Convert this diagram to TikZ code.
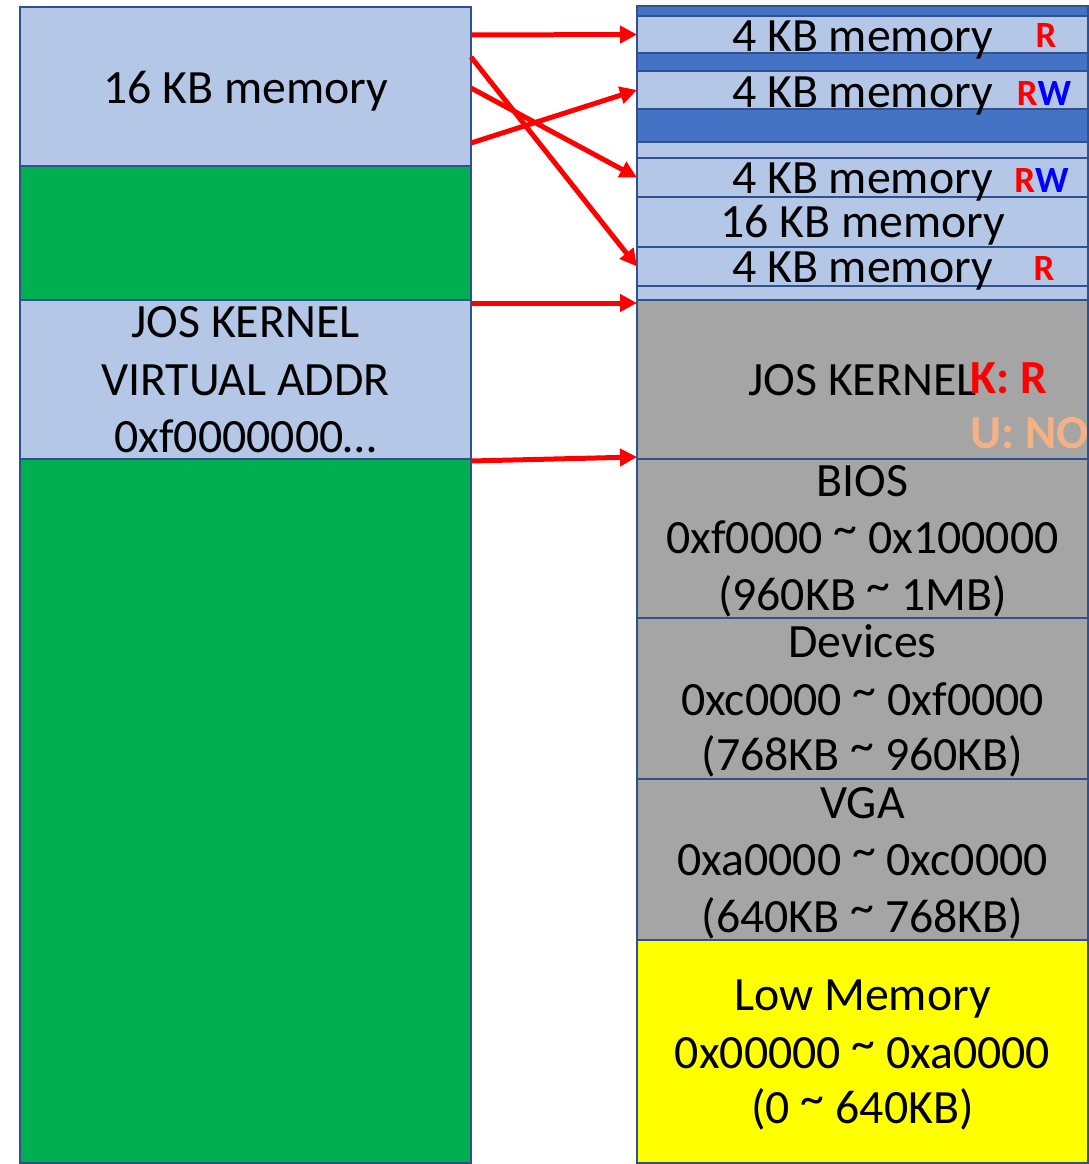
\documentclass[tikz,border=0pt]{standalone}
\usepackage{fontspec}
\setmainfont{Carlito}
\usetikzlibrary{arrows.meta}

\definecolor{edgeblue}{RGB}{47,82,143}
\definecolor{lightblue}{HTML}{B4C7E7}
\definecolor{darkblue}{HTML}{4472C4}
\definecolor{freegreen}{HTML}{00B050}
\definecolor{biosgray}{HTML}{A5A5A5}
\definecolor{lowyellow}{HTML}{FFFF00}
\definecolor{permred}{HTML}{FF0000}
\definecolor{permblue}{HTML}{0000FF}
\definecolor{peach}{HTML}{F4B183}

% name, left x, top y, width, height, fill
\newcommand\seg[6]{%
  \node[segbox, fill=#6, minimum width=#4pt, minimum height=#5pt]
    (#1) at (#2,#3) {};}
% raised range tilde
\newcommand\rng{\raisebox{0.18em}{\textasciitilde}}

\begin{document}
\begin{tikzpicture}[x=1pt, y=-1pt,
  segbox/.style={draw=edgeblue, line width=2.2pt, rectangle, inner sep=0pt,
    outer sep=0pt, anchor=north west},
  txt/.style={font=\fontsize{47.8pt}{58pt}\selectfont, anchor=base, inner sep=0pt},
  perm/.style={font=\fontsize{37pt}{42pt}\selectfont\bfseries, anchor=base, inner sep=0pt},
  kperm/.style={font=\fontsize{47.5pt}{55pt}\selectfont\bfseries, anchor=base west, inner sep=0pt},
  maparrow/.style={draw=permred, line width=5pt,
    -{Triangle[length=17pt, width=17pt]}}]

\useasboundingbox (0,0) rectangle (1089,1164);

% virtual address space
\seg{lmem}{20}{7}{451}{159}{lightblue}
\seg{lgap}{20}{166}{451}{134}{freegreen}
\seg{lkern}{20}{300}{451}{159}{lightblue}
\seg{lrest}{20}{459}{451}{704}{freegreen}

% physical memory
\seg{rtop}{637}{6}{451}{10}{darkblue}
\seg{pa}{637}{16}{451}{37}{lightblue}
\seg{rgapa}{637}{53}{451}{18}{darkblue}
\seg{pb}{637}{71}{451}{38}{lightblue}
\seg{rgapb}{637}{109}{451}{33}{darkblue}
\seg{rgapc}{637}{142}{451}{16}{lightblue}
\seg{pc}{637}{158}{451}{39}{lightblue}
\seg{psixteen}{637}{197}{451}{50}{lightblue}
\seg{pd}{637}{247}{451}{39}{lightblue}
\seg{rgapd}{637}{286}{451}{14}{lightblue}
\seg{kern}{637}{300}{451}{159}{biosgray}
\seg{bios}{637}{459}{451}{159}{biosgray}
\seg{dev}{637}{618}{451}{161}{biosgray}
\seg{vga}{637}{779}{451}{161}{biosgray}
\seg{low}{637}{940}{451}{223}{lowyellow}

% left texts
\node[txt] (tlmem) at (245.5,103) {16 KB memory};
\node[txt] (tlk1) at (245.5,337) {JOS KERNEL};
\node[txt] (tlk2) at (245.5,395) {VIRTUAL ADDR};
\node[txt] (tlk3) at (245.5,452) {0xf0000000…};

% right texts
\node[txt] (tpa) at (862.5,52) {4 KB memory};
\node[txt] (tpb) at (862.5,107) {4 KB memory};
\node[txt] (tpc) at (862.5,193) {4 KB memory};
\node[txt] (tp16) at (862.5,237) {16 KB memory};
\node[txt] (tpd) at (862.5,282) {4 KB memory};

\node[perm, text=permred] (rpa) at (1046,48) {R};
\node[perm] (rpb) at (1044,105) {\textcolor{permred}{R}\textcolor{permblue}{W}};
\node[perm] (rpc) at (1041.5,192) {\textcolor{permred}{R}\textcolor{permblue}{W}};
\node[perm, text=permred] (rpd) at (1044,280) {R};

\node[txt] (tkern) at (862.5,395) {JOS KERNEL};
\node[kperm, text=permred] (kk) at (970,393) {K: R};
\node[kperm, text=peach] (ku) at (970,448) {U: NO};

\node[txt] (tb1) at (862.5,496) {BIOS};
\node[txt] (tb2) at (862.5,553) {0xf0000 \rng{} 0x100000};
\node[txt] (tb3) at (862.5,610) {(960KB \rng{} 1MB)};

\node[txt] (td1) at (862.5,657) {Devices};
\node[txt] (td2) at (862.5,715) {0xc0000 \rng{} 0xf0000};
\node[txt] (td3) at (862.5,770) {(768KB \rng{} 960KB)};

\node[txt] (tv1) at (862.5,818) {VGA};
\node[txt] (tv2) at (862.5,875) {0xa0000 \rng{} 0xc0000};
\node[txt] (tv3) at (862.5,932) {(640KB \rng{} 768KB)};

\node[txt] (tl1) at (862.5,1010) {Low Memory};
\node[txt] (tl2) at (862.5,1068) {0x00000 \rng{} 0xa0000};
\node[txt] (tl3) at (862.5,1123) {(0 \rng{} 640KB)};

% page mappings
\draw[maparrow] ([yshift=-28pt]lmem.north east) -- (pa.west);
\draw[maparrow] ([yshift=-50pt]lmem.north east) -- (pd.west);
\draw[maparrow] ([yshift=-81pt]lmem.north east) -- (pc.west);
\draw[maparrow] ([yshift=-136pt]lmem.north east) -- (pb.west);
\draw[maparrow] ([yshift=-3pt]lkern.north east) -- ([yshift=-3pt]kern.north west);
\draw[maparrow] ([yshift=-2pt]lrest.north east) -- ([yshift=2pt]kern.south west);

\end{tikzpicture}
\end{document}
